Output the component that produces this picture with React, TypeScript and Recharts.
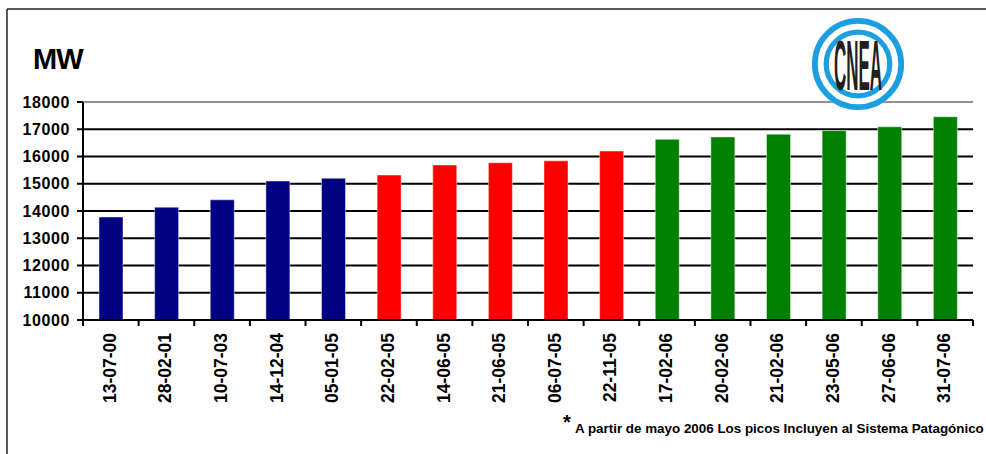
import { BarChart, Bar, XAxis, YAxis, CartesianGrid, Cell } from 'recharts'

const dates = ['13-07-00', '28-02-01', '10-07-03', '14-12-04', '05-01-05', '22-02-05', '14-06-05', '21-06-05',
  '06-07-05', '22-11-05', '17-02-06', '20-02-06', '21-02-06', '23-05-06', '27-06-06', '31-07-06']
const peaks = [13780, 14140, 14410, 15100, 15200, 15320, 15690, 15770, 15840, 16200, 16630, 16720, 16820, 16950, 17090, 17460]
const periods = ['a', 'a', 'a', 'a', 'a', 'b', 'b', 'b', 'b', 'b', 'c', 'c', 'c', 'c', 'c', 'c']
const yTicks = [10000, 11000, 12000, 13000, 14000, 15000, 16000, 17000, 18000]
const title = 'MW'
const footnote = 'A partir de mayo 2006 Los picos Incluyen al Sistema Patagónico'

const COLORS: Record<string, string> = { a: '#000080', b: '#ff0000', c: '#008000' }
const FONT = '"Liberation Sans", Arial, sans-serif'
const LOGO_BLUE = '#1c9fe0'

const data = dates.map((d, i) => ({ fecha: d, mw: peaks[i], grupo: periods[i] }))

function DateTick(props: any) {
  const { x, y, payload, index } = props
  const half = payload?.offset ?? 0
  return (
    <g>
      <line x1={x - half} x2={x - half} y1={y} y2={y + 6} stroke="#000" strokeWidth={2} />
      {index === dates.length - 1 && <line x1={x + half} x2={x + half} y1={y} y2={y + 6} stroke="#000" strokeWidth={2} />}
      <text x={x + 5} y={y + 13} transform={`rotate(-90, ${x + 5}, ${y + 13})`} textAnchor="end"
        fontFamily={FONT} fontWeight="bold" fontSize={17.5} fill="#000">
        {payload.value}
      </text>
    </g>
  )
}

export default function App() {
  return (
    <div style={{ position: 'absolute', left: 0, top: 0, width: 986, height: 454, background: '#fff' }}>
      <BarChart width={986} height={454} data={data} margin={{ top: 102, right: 13, bottom: 34, left: 0 }}>
        <CartesianGrid vertical={false} horizontalValues={[11000, 12000, 13000, 14000, 15000, 16000, 17000]} stroke="#000" strokeWidth={2} />
        <CartesianGrid vertical={false} horizontalValues={[18000]} stroke="#222" strokeWidth={1} />
        <YAxis domain={[10000, 18000]} ticks={yTicks} interval={0} width={83} allowDataOverflow
          axisLine={{ stroke: '#000', strokeWidth: 2 }} tickLine={{ stroke: '#000', strokeWidth: 2 }} tickSize={6} tickMargin={7}
          tick={{ fill: '#000', fontSize: 16, fontWeight: 'bold', fontFamily: FONT, letterSpacing: 0.6 }} />
        <XAxis dataKey="fecha" interval={0} height={100} tickLine={false} tickSize={0} tickMargin={0}
          axisLine={{ stroke: '#000', strokeWidth: 2 }} tick={<DateTick />} />
        <Bar dataKey="mw" barSize={24} isAnimationActive={false} stroke="rgba(255,255,255,0.45)" strokeWidth={1}>
          {data.map((row) => (
            <Cell key={row.fecha} fill={COLORS[row.grupo]} />
          ))}
        </Bar>
      </BarChart>

      <svg width={986} height={454} style={{ position: 'absolute', left: 0, top: 0, pointerEvents: 'none' }}>
        <line x1={7} y1={9} x2={986} y2={9} stroke="#222" strokeWidth={1.5} />
        <line x1={7} y1={9} x2={7} y2={454} stroke="#222" strokeWidth={1.5} />
        <text x={33} y={69} fontFamily={FONT} fontWeight="bold" fontSize={29} letterSpacing={-1} fill="#000">{title}</text>

        <g transform="translate(858, 64)">
          <circle r={46} fill="#fff" />
          <circle r={43.2} fill="none" stroke={LOGO_BLUE} strokeWidth={5.8} />
          <circle r={31.8} fill="none" stroke={LOGO_BLUE} strokeWidth={5.2} />
          <text transform="translate(0, 26) scale(1, 4.1)" textAnchor="middle" fontFamily={FONT} fontWeight="bold"
            fontSize={17} fill="#231f20">CNEA</text>
        </g>

        <text x={563} y={429} fontFamily={FONT} fontWeight="bold" fontSize={20} fill="#000">*</text>
        <text x={575} y={433} fontFamily={FONT} fontWeight="bold" fontSize={13.4} fill="#000">{footnote}</text>
      </svg>
    </div>
  )
}
